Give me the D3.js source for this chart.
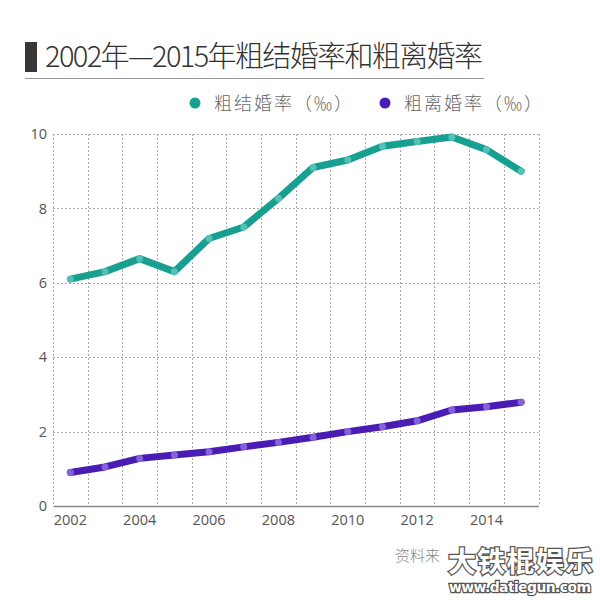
<!DOCTYPE html>
<html><head><meta charset="utf-8">
<script src="https://cdn.jsdelivr.net/npm/d3@7/dist/d3.min.js"></script>
<style>body{margin:0;background:#fff}svg{display:block}</style>
</head><body>
<svg id="c" width="600" height="600"></svg>
<script>
const years = [2002,2003,2004,2005,2006,2007,2008,2009,2010,2011,2012,2013,2014,2015];
const marriage = [6.10,6.30,6.65,6.30,7.19,7.50,8.27,9.10,9.30,9.67,9.80,9.92,9.58,9.00];
const divorce = [0.90,1.05,1.28,1.37,1.46,1.59,1.71,1.85,2.00,2.13,2.29,2.58,2.67,2.79];
const yTicks = [0,2,4,6,8,10];
const xTickYears = [2002,2004,2006,2008,2010,2012,2014];
const seriesNames = ["粗结婚率（‰）","粗离婚率（‰）"];
const title = "2002年—2015年粗结婚率和粗离婚率";

const svg = d3.select("#c");
const font = "'Noto Sans CJK SC','Noto Sans',sans-serif";
const numFont = "'Open Sans','Noto Sans',sans-serif";
const L = 53, R = 538.5, T = 134, B = 506;

const x = d3.scaleBand().domain(years).range([L, R]).padding(0);
const y = d3.scaleLinear().domain([0,10]).range([B, T]);

// title
svg.append("rect").attr("x",25).attr("y",42).attr("width",12).attr("height",30).attr("fill","#3a3635");
svg.append("text").attr("x",45).attr("y",67).attr("font-family",font).attr("font-size",29).attr("font-weight",300)
  .attr("fill","#333").attr("textLength",438).text(title);
svg.append("line").attr("x1",25).attr("x2",484).attr("y1",78.5).attr("y2",78.5).attr("stroke","#999").attr("stroke-width",1);

// legend
const colors = ["#17a092","#4a1cb4"];
const dotColors = ["#5ec7bb","#8d6fe0"];
const legX = [195, 385];
seriesNames.forEach((n,i)=>{
  svg.append("circle").attr("cx",legX[i]).attr("cy",103).attr("r",5.5).attr("fill",colors[i]);
  svg.append("text").attr("x",legX[i]+19).attr("y",109.5).attr("font-family",font).attr("font-size",18).attr("font-weight",300)
    .attr("fill","#666").attr("textLength",138).text(n);
});

// grid
const g = svg.append("g");
g.selectAll(".hg").data(yTicks.filter(d=>d>0)).join("line")
  .attr("x1",L).attr("x2",R).attr("y1",d=>Math.round(y(d))+0.5).attr("y2",d=>Math.round(y(d))+0.5)
  .attr("stroke","#aaa").attr("stroke-dasharray","2,2");
const vx = years.map(d=>x(d)).concat([R]);
g.selectAll(".vg").data(vx).join("line")
  .attr("x1",d=>Math.round(d)+0.5).attr("x2",d=>Math.round(d)+0.5).attr("y1",T).attr("y2",B)
  .attr("stroke","#aaa").attr("stroke-dasharray","2,2");

// axes
const xAxis = d3.axisBottom(x).tickValues(xTickYears).tickSize(0).tickPadding(9);
const xg = svg.append("g").attr("transform",`translate(0,${B})`).call(xAxis);
xg.select(".domain").attr("stroke","#888").attr("stroke-width",1.5);
xg.selectAll("text").attr("font-family",numFont).attr("font-size",14.5).attr("fill","#555");

const yAxis = d3.axisLeft(y).tickValues(yTicks).tickSize(0).tickPadding(6);
const yg = svg.append("g").attr("transform",`translate(${L},0)`).call(yAxis);
yg.select(".domain").remove();
yg.selectAll("text").attr("font-family",numFont).attr("font-size",14.5).attr("fill","#555");

// lines
const line = d3.line().x((d,i)=>x(years[i])+x.bandwidth()/2).y(d=>y(d));
[marriage, divorce].forEach((s,i)=>{
  svg.append("path").attr("d",line(s)).attr("fill","none").attr("stroke",colors[i])
    .attr("stroke-width",7).attr("stroke-linejoin","round").attr("stroke-linecap","round");
  svg.selectAll(".p"+i).data(s).join("circle")
    .attr("cx",(d,j)=>x(years[j])+x.bandwidth()/2).attr("cy",d=>y(d)).attr("r",3.5)
    .attr("fill",dotColors[i]).attr("opacity",0.85);
});

// source + watermark
svg.append("text").attr("x",395).attr("y",561).attr("font-family",font).attr("font-size",15).attr("font-weight",300)
  .attr("fill","#888").text("资料来");
svg.append("text").attr("x",448).attr("y",572).attr("font-family",font).attr("font-size",28).attr("font-weight","bold")
  .attr("fill","#fff").attr("stroke","#555").attr("stroke-width",2.5).attr("paint-order","stroke")
  .attr("textLength",145).text("大铁棍娱乐");
svg.append("text").attr("x",449).attr("y",592).attr("font-family","'DejaVu Sans',sans-serif").attr("font-size",14).attr("font-weight","bold")
  .attr("fill","#fff").attr("stroke","#555").attr("stroke-width",2.5).attr("paint-order","stroke")
  .attr("textLength",142).text("www.datiegun.com");
</script>
</body></html>
